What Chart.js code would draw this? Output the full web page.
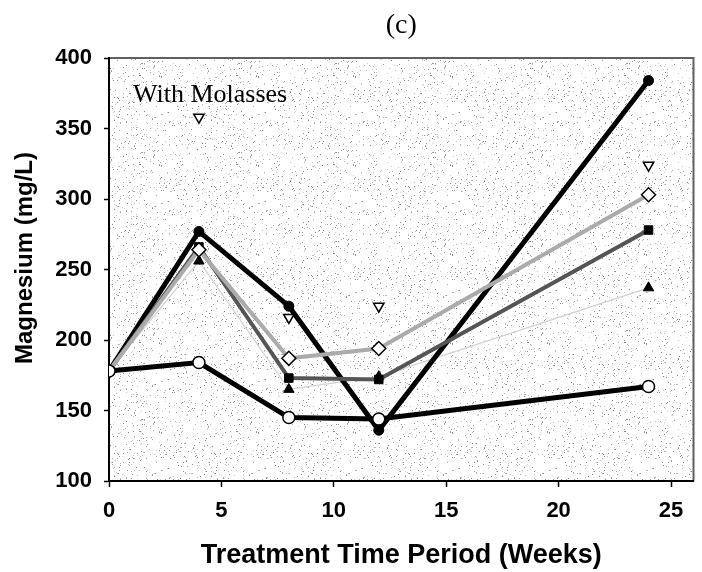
<!DOCTYPE html>
<html>
<head>
<meta charset="utf-8">
<script src="https://cdn.jsdelivr.net/npm/chart.js@4/dist/chart.umd.min.js"></script>
<style>
  html, body { margin: 0; padding: 0; background: #ffffff; }
  #wrap { width: 702px; height: 572px; position: relative; }
</style>
</head>
<body>
<div id="wrap"><canvas id="c" width="702" height="572"></canvas></div>
<script>
// ---- data ----
const weeks = [0, 4, 8, 12, 24];
const filledCircle   = [178, 277, 224, 136, 384];
const openCircle     = [178, 184, 145, 144, 167];
const openTriangle   = [178, 358, 216, 224, 324];
const openDiamond    = [178, 264, 187, 194, 303];
const filledSquare   = [178, 266, 173, 172, 278];
const filledTriangle = [178, 256, 165, 174, 237];
const xTicks = [0, 5, 10, 15, 20, 25];
const yTicks = [100, 150, 200, 250, 300, 350, 400];
const chartTitle = "(c)";
const annotation = "With Molasses";
const xTitle = "Treatment Time Period (Weeks)";
const yTitle = "Magnesium (mg/L)";

const pts = arr => weeks.map((w, i) => ({ x: w, y: arr[i] }));

// stipple texture for the plot background (deterministic decoration)
function makeStipple() {
  const c = document.createElement('canvas');
  c.width = 97; c.height = 89;
  const g = c.getContext('2d');
  g.fillStyle = '#ffffff';
  g.fillRect(0, 0, c.width, c.height);
  for (let y = 0; y < c.height; y++) {
    for (let x = 0; x < c.width; x++) {
      const h = Math.abs(Math.sin(x * 12.9898 + y * 78.233) * 43758.5453) % 1;
      if (h < 0.045) {
        const t = Math.floor(130 + (h / 0.045) * 90);
        g.fillStyle = `rgb(${t},${t},${t})`;
        g.fillRect(x, y, 1, 1);
      }
    }
  }
  return c;
}

const stipplePlugin = {
  id: 'stipple',
  beforeDraw(chart) {
    const { ctx, chartArea: a } = chart;
    ctx.save();
    const pat = ctx.createPattern(makeStipple(), 'repeat');
    ctx.fillStyle = pat;
    ctx.fillRect(a.left, a.top, a.right - a.left, a.bottom - a.top);
    // top and right frame
    ctx.strokeStyle = '#606060';
    ctx.lineWidth = 2;
    ctx.beginPath();
    ctx.moveTo(a.left, a.top);
    ctx.lineTo(a.right, a.top);
    ctx.lineTo(a.right, a.bottom);
    ctx.stroke();
    ctx.restore();
  }
};

const textPlugin = {
  id: 'texts',
  afterDraw(chart) {
    const { ctx, chartArea: a } = chart;
    const cx = (a.left + a.right) / 2;
    ctx.save();
    ctx.fillStyle = '#000';
    ctx.textBaseline = 'alphabetic';
    ctx.textAlign = 'center';
    ctx.font = '28px "Liberation Serif", "Times New Roman", serif';
    ctx.fillText(chartTitle, cx, 33);
    ctx.textAlign = 'left';
    ctx.font = '26px "Liberation Serif", "Times New Roman", serif';
    ctx.fillText(annotation, 133, 102);
    ctx.textAlign = 'center';
    ctx.textBaseline = 'middle';
    ctx.font = 'bold 27px "Liberation Sans", Arial, sans-serif';
    ctx.fillText(xTitle, cx, 556);
    ctx.translate(25, 258);
    ctx.rotate(-Math.PI / 2);
    ctx.font = 'bold 24px "Liberation Sans", Arial, sans-serif';
    ctx.fillText(yTitle, 0, 0);
    ctx.restore();
  }
};

const tickFont = { family: '"Liberation Sans", Arial, sans-serif', size: 22, weight: 'bold' };

new Chart(document.getElementById('c'), {
  type: 'line',
  data: {
    datasets: [
      {
        label: 'open triangle', data: pts(openTriangle), showLine: false,
        pointStyle: 'triangle', rotation: 180, radius: 6,
        pointBackgroundColor: '#ffffff', pointBorderColor: '#000', pointBorderWidth: 1.5,
        order: 2
      },
      {
        label: 'open circle', data: pts(openCircle), borderColor: '#000', borderWidth: 5,
        pointStyle: 'circle', radius: 6, pointBackgroundColor: '#ffffff',
        pointBorderColor: '#000', pointBorderWidth: 1.5, order: 1
      },
      {
        label: 'open diamond', data: pts(openDiamond), borderColor: '#ababab', borderWidth: 4,
        pointStyle: 'rectRot', radius: 7, pointBackgroundColor: '#ffffff',
        pointBorderColor: '#000', pointBorderWidth: 1.5, order: 3
      },
      {
        label: 'filled square', data: pts(filledSquare), borderColor: '#555555', borderWidth: 4,
        pointStyle: 'rect', radius: 6, pointBackgroundColor: '#000',
        pointBorderColor: '#000', pointBorderWidth: 1, order: 4
      },
      {
        label: 'filled circle', data: pts(filledCircle), borderColor: '#000', borderWidth: 5,
        pointStyle: 'circle', radius: 5, pointBackgroundColor: '#000',
        pointBorderColor: '#000', pointBorderWidth: 1, order: 5
      },
      {
        label: 'filled triangle', data: pts(filledTriangle), borderColor: '#d2d2d2', borderWidth: 1.2,
        pointStyle: 'triangle', radius: 6, pointBackgroundColor: '#000',
        pointBorderColor: '#000', pointBorderWidth: 1, order: 6
      }
    ]
  },
  options: {
    responsive: false,
    animation: false,
    events: [],
    layout: { padding: { top: 58, right: 1, left: 0, bottom: 0 } },
    plugins: { legend: { display: false }, tooltip: { enabled: false }, title: { display: false } },
    elements: { line: { tension: 0 } },
    scales: {
      x: {
        type: 'linear', min: 0, max: 26,
        afterBuildTicks: s => { s.ticks = xTicks.map(v => ({ value: v })); },
        afterFit: s => { s.height = 91; s.paddingLeft = 0; s.paddingRight = 0; },
        ticks: { font: tickFont, color: '#000', padding: 11, maxRotation: 0 },
        grid: { drawOnChartArea: false, drawTicks: true, tickLength: 6, tickColor: '#000', tickWidth: 1.5 },
        border: { color: '#000', width: 2 }
      },
      y: {
        type: 'linear', min: 100, max: 400,
        afterBuildTicks: s => { s.ticks = yTicks.map(v => ({ value: v })); },
        afterFit: s => { s.width = 109; s.paddingTop = 0; s.paddingBottom = 0; },
        ticks: { font: tickFont, color: '#000', padding: 12 },
        grid: { drawOnChartArea: false, drawTicks: true, tickLength: 5, tickColor: '#000', tickWidth: 1.5 },
        border: { color: '#000', width: 2 }
      }
    }
  },
  plugins: [stipplePlugin, textPlugin]
});
</script>
</body>
</html>
